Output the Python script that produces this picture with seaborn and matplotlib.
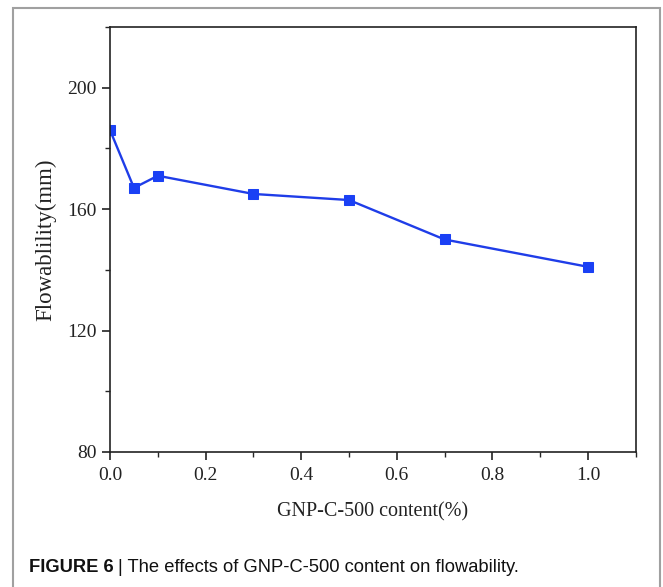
import numpy as np
import pandas as pd
import matplotlib
matplotlib.use('Agg')
import matplotlib.pyplot as plt
import matplotlib.patches as mpatches
from matplotlib.ticker import MultipleLocator
import seaborn as sns

# 데이터
content = [0.0, 0.05, 0.1, 0.3, 0.5, 0.7, 1.0]
flowability = [186, 167, 171, 165, 163, 150, 141]

df = pd.DataFrame({'content': content, 'flow': flowability})

sns.set_style('ticks')
plt.rcParams['font.family'] = ['Liberation Serif', 'DejaVu Serif']

fig = plt.figure(figsize=(6.63, 5.87), dpi=100)
ax = fig.add_axes([0.166, 0.23, 0.793, 0.724])

sns.lineplot(data=df, x='content', y='flow', ax=ax, color='#1f3de8',
             linewidth=1.7, marker='s', markersize=6.5,
             markerfacecolor='#1a40f5', markeredgecolor='#1a40f5')

ax.set_xlim(0, 1.1)
ax.set_ylim(80, 220)
ax.set_xticks([0.0, 0.2, 0.4, 0.6, 0.8, 1.0])
ax.set_yticks([80, 120, 160, 200])
ax.xaxis.set_minor_locator(MultipleLocator(0.1))
ax.yaxis.set_minor_locator(MultipleLocator(20))
ax.tick_params(which='major', length=6, width=1.2, labelsize=14, direction='out', colors='#222222')
ax.tick_params(axis='x', which='major', pad=5)
ax.tick_params(which='minor', length=3.5, width=1.0, direction='out')
ax.set_xticklabels(['0.0', '0.2', '0.4', '0.6', '0.8', '1.0'])
for s in ax.spines.values():
    s.set_linewidth(1.2)
    s.set_color('#222222')

ax.set_xlabel('GNP-C-500 content(%)', fontsize=14.5, labelpad=13, color='#222222')
ax.set_ylabel('Flowablility(mm)', fontsize=16.5, labelpad=8, color='#222222')

# 캡션
fig.text(29 / 663, 1 - 568 / 587, 'FIGURE 6', fontsize=13.2, fontweight='bold',
         family=['Liberation Sans', 'DejaVu Sans'], va='center', ha='left', color='#111111')
fig.text(118 / 663, 1 - 568 / 587, '| The effects of GNP-C-500 content on flowability.',
         fontsize=13.2, family=['Liberation Sans', 'DejaVu Sans'], va='center', ha='left',
         color='#111111')

# 바깥 테두리
frame = mpatches.Rectangle((13 / 663, -0.02), (660 - 13) / 663, 1 - 8 / 587 + 0.02,
                           transform=fig.transFigure, fill=False,
                           edgecolor='#a0a0a0', linewidth=1.5)
fig.add_artist(frame)

fig.savefig('out.png', dpi=100)
